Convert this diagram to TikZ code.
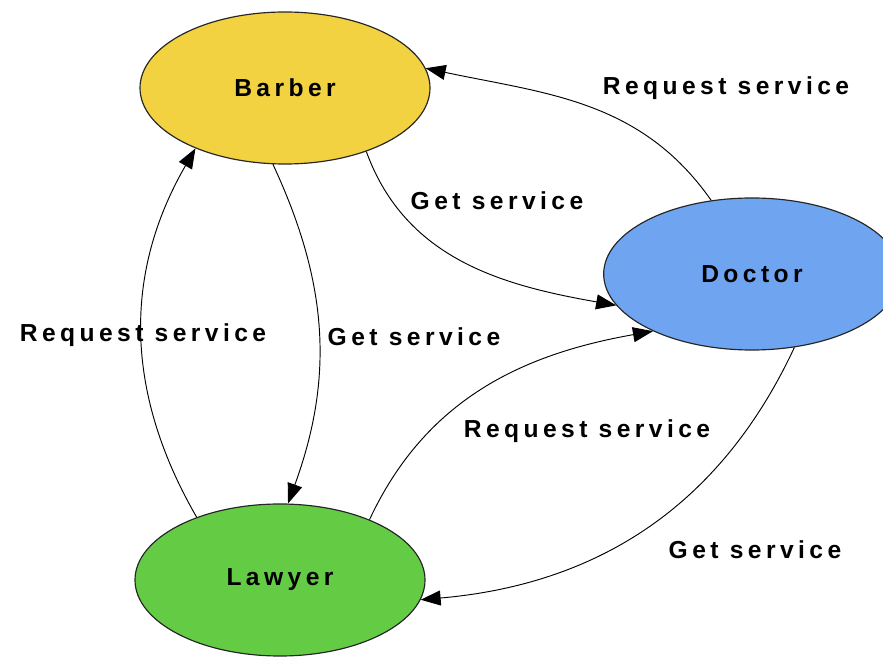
\documentclass[tikz,border=0pt]{standalone}
\usepackage{fontspec}
\newfontfamily\diagfont[LetterSpace=18]{Liberation Sans}
\usetikzlibrary{arrows.meta,shapes.geometric}

\definecolor{barberyellow}{RGB}{242,210,64}
\definecolor{doctorblue}{RGB}{111,165,240}
\definecolor{lawyergreen}{RGB}{99,204,68}

\begin{document}
\begin{tikzpicture}[x=0.03cm, y=0.03cm,
  >={Triangle[length=0.6cm, width=0.45cm]},
  every node/.style={font=\diagfont\bfseries\fontsize{21}{24}\selectfont},
  person/.style={ellipse, draw=black!85, line width=1pt,
    minimum width=8.7cm, minimum height=4.56cm, inner sep=0pt},
  link/.style={->, line width=0.8pt}]

  \useasboundingbox (0,0) rectangle (883,662);

  % =========================
  % people
  % =========================
  \node[person, fill=barberyellow] (barber) at (285,574) {Barber};
  \node[person, fill=doctorblue, minimum width=8.9cm] (doctor) at (752,388) {Doctor};
  \node[person, fill=lawyergreen] (lawyer) at (280,82) {Lawyer};

  % =========================
  % service links
  % =========================
  \draw[link] (doctor.119) to[out=125, in=-12] (barber.8);
  \draw[link] (barber.-38) to[out=-70, in=170] (doctor.193);
  \draw[link] (barber.-99) to[out=-65, in=70] (lawyer.84);
  \draw[link] (lawyer.143) to[out=120, in=-120] (barber.214);
  \draw[link] (lawyer.34) to[out=65, in=190] (doctor.210);
  \draw[link] (doctor.-60) to[out=-115, in=5] (lawyer.-8);

  % labels
  \node (reqDB) at (726,574) {Request service};
  \node (getBD) at (497,461) {Get service};
  \node (reqLB) at (143,327) {Request service};
  \node (getBL) at (414,325) {Get service};
  \node (reqLD) at (587,231) {Request service};
  \node (getDL) at (755,112) {Get service};

\end{tikzpicture}
\end{document}
